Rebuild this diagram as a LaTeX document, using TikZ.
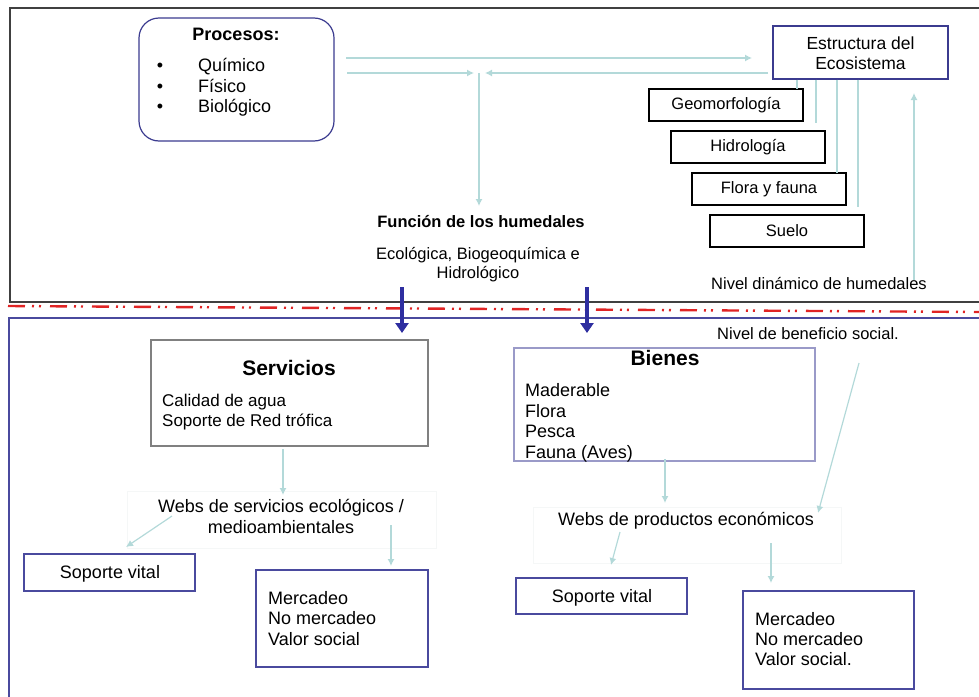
\documentclass[tikz,border=0pt]{standalone}
\usepackage{fontspec}
\setmainfont{Liberation Sans}
\usetikzlibrary{arrows.meta}
\newcommand\fsz[1]{\fontsize{#1}{#1}\selectfont}
\definecolor{lightc}{HTML}{B3D9D9}
\definecolor{navy}{HTML}{3B3B8F}
\definecolor{boxblue}{HTML}{4A4A9E}
\definecolor{lilac}{HTML}{9A9AC8}
\definecolor{darkarrow}{HTML}{2E2EA0}
\definecolor{redline}{HTML}{E02424}
\definecolor{frame}{HTML}{404040}
\definecolor{faint}{HTML}{F5F7F7}
\tikzset{
  box/.style={draw, line width=1.2pt, inner sep=0pt},
  txt/.style={inner sep=0pt, anchor=base},
  txtw/.style={inner sep=0pt, anchor=base west},
  lc/.style={draw=lightc, line width=1.2pt},
  la/.style={lc, -{Latex[length=7pt,width=7pt]}},
  bigarrow/.style={draw=darkarrow, line width=4pt, -{Triangle[length=10pt,width=13pt]}},
}
\begin{document}
\begin{tikzpicture}[x=1pt,y=-1pt]
\useasboundingbox (0,0) rectangle (979,696);
% frames
\draw[frame, line width=1.5pt] (10,8) rectangle (995,302);
\draw[boxblue, line width=2pt] (9,318) rectangle (995,710);
\draw[redline, line width=2.4pt, dash pattern=on 17pt off 7pt on 2pt off 5pt on 2pt off 9pt] (8,306) -- (979,312);

% Procesos
\node[box, draw=navy, rounded corners=20pt, minimum width=195pt, minimum height=123pt] (proc) at (236.5,79.5) {};
\node[txt, font=\bfseries\fsz{18}] (proct) at (236,40) {Procesos:};
\node[txt, font=\fsz{18}] (b1) at (160,71.5) {\textbullet};
\node[txt, font=\fsz{18}] (b2) at (160,92) {\textbullet};
\node[txt, font=\fsz{18}] (b3) at (160,112.5) {\textbullet};
\node[txtw, font=\fsz{18}] (q) at (198,71.5) {Químico};
\node[txtw, font=\fsz{18}] (f) at (198,92) {Físico};
\node[txtw, font=\fsz{18}] (bi) at (198,112.5) {Biológico};

% Estructura
\node[box, draw=navy, minimum width=175pt, minimum height=53pt] (est) at (860.5,52.5) {};
\node[txt, font=\fsz{17.5}] (est1) at (860.5,49.3) {Estructura del};
\node[txt, font=\fsz{17.5}] (est2) at (860.5,69) {Ecosistema};

\node[box, draw=black, minimum width=154pt, minimum height=32pt, font=\fsz{16.5}] (geo) at (726,105) {Geomorfología};
\node[box, draw=black, minimum width=154pt, minimum height=32pt, font=\fsz{16.5}] (hid) at (748,147) {Hidrología};
\node[box, draw=black, minimum width=154pt, minimum height=32pt, font=\fsz{16.5}] (flo) at (769,189) {Flora y fauna};
\node[box, draw=black, minimum width=154pt, minimum height=32pt, font=\fsz{16.5}] (sue) at (787,231) {Suelo};

\coordinate (l1e) at (797,89);
\coordinate (l2e) at (816,123);
\coordinate (l3e) at (837,173);
\coordinate (l4e) at (858,207);
\draw[lc] (l1e |- est.south) -- (l1e);
\draw[lc] (l2e |- est.south) -- (l2e);
\draw[lc] (l3e |- est.south) -- (l3e);
\draw[lc] (l4e |- est.south) -- (l4e);

\node[txt, font=\fsz{16.5}] (niv) at (819,289.3) {Nivel dinámico de humedales};
\coordinate (up0) at (914,280);
\coordinate (up1) at (914,93);
\draw[la] (up0) -- (up1);

% top arrows
\coordinate (a1s) at (346,58);
\coordinate (a1e) at (752,58);
\draw[la] (a1s) -- (a1e);
\coordinate (a2s) at (347,73);
\coordinate (a2e) at (474,73);
\draw[la] (a2s) -- (a2e);
\coordinate (a3s) at (768,73);
\coordinate (a3e) at (485,73);
\draw[la] (a3s) -- (a3e);
\coordinate (a4s) at (479,73);
\coordinate (a4e) at (479,206);
\draw[la] (a4s) -- (a4e);

% Funcion
\node[txt, font=\bfseries\fsz{16.5}] (fun) at (481,227.7) {Función de los humedales};
\node[txt, font=\fsz{16.5}] (fun1) at (478,259.3) {Ecológica, Biogeoquímica e};
\node[txt, font=\fsz{16.5}] (fun2) at (478,278.3) {Hidrológico};

\coordinate (d1s) at (402,287);
\coordinate (d1e) at (402,333);
\coordinate (d2s) at (587,287);
\coordinate (d2e) at (587,333);
\draw[bigarrow] (d1s) -- (d1e);
\draw[bigarrow] (d2s) -- (d2e);

% Servicios
\node[box, draw=gray, minimum width=277pt, minimum height=106pt] (serv) at (289.5,393) {};
\node[txt, font=\bfseries\fsz{21}] (servt) at (289,375) {Servicios};
\node[txtw, font=\fsz{17}] (s1) at (162,406.7) {Calidad de agua};
\node[txtw, font=\fsz{17}] (s2) at (162,426.7) {Soporte de Red trófica};

\node[draw=faint, line width=0.6pt, minimum width=309pt, minimum height=57pt, inner sep=0pt] (webs) at (281.5,519.5) {};
\node[txt, font=\fsz{18}] (w1) at (281,512.7) {Webs de servicios ecológicos /};
\node[txt, font=\fsz{18}] (w2) at (281,533.3) {medioambientales};

\coordinate (e1s) at (283,449);
\coordinate (e1e) at (283,495);
\draw[la] (e1s) -- (e1e);
\coordinate (e2s) at (172,516);
\coordinate (e2e) at (126,547);
\draw[la] (e2s) -- (e2e);
\coordinate (e3s) at (391,525);
\coordinate (e3e) at (391,566);
\draw[la] (e3s) -- (e3e);

\node[box, draw=boxblue, minimum width=171pt, minimum height=37pt] (svl) at (109.5,572.5) {};
\node[txt, font=\fsz{18}] (svlt) at (110,578.3) {Soporte vital};
\node[box, draw=boxblue, minimum width=172pt, minimum height=97pt] (merl) at (342,618.5) {};
\node[txtw, font=\fsz{18}] (m1) at (268,604) {Mercadeo};
\node[txtw, font=\fsz{18}] (m2) at (268,624.5) {No mercadeo};
\node[txtw, font=\fsz{18}] (m3) at (268,645) {Valor social};

% Bienes
\node[box, draw=lilac, minimum width=301pt, minimum height=113pt] (bien) at (664.5,404.5) {};
\node[txt, font=\bfseries\fsz{21}] (bient) at (665,365) {Bienes};
\node[txtw, font=\fsz{18}] (g1) at (525,396.7) {Maderable};
\node[txtw, font=\fsz{18}] (g2) at (525,417) {Flora};
\node[txtw, font=\fsz{18}] (g3) at (525,437.3) {Pesca};
\node[txtw, font=\fsz{18}] (g4) at (525,458.3) {Fauna (Aves)};

\node[txt, font=\fsz{16.5}] (nbs) at (808,339.3) {Nivel de beneficio social.};

\node[draw=faint, line width=0.6pt, minimum width=308pt, minimum height=56pt, inner sep=0pt] (webp) at (687,535) {};
\node[txt, font=\fsz{18}] (wp) at (686,525.7) {Webs de productos económicos};

\coordinate (f1s) at (665,459);
\coordinate (f1e) at (665,503);
\draw[la] (f1s) -- (f1e);
\coordinate (f2s) at (859,363);
\coordinate (f2e) at (818,513);
\draw[la] (f2s) -- (f2e);
\coordinate (f3s) at (620,532);
\coordinate (f3e) at (611,565);
\draw[la] (f3s) -- (f3e);
\coordinate (f4s) at (771,543);
\coordinate (f4e) at (771,583);
\draw[la] (f4s) -- (f4e);

\node[box, draw=boxblue, minimum width=171pt, minimum height=36pt] (svr) at (601.5,596) {};
\node[txt, font=\fsz{18}] (svrt) at (602,602.7) {Soporte vital};
\node[box, draw=boxblue, minimum width=171pt, minimum height=98pt] (merr) at (828.5,640) {};
\node[txtw, font=\fsz{18}] (r1) at (755,625) {Mercadeo};
\node[txtw, font=\fsz{18}] (r2) at (755,645.5) {No mercadeo};
\node[txtw, font=\fsz{18}] (r3) at (755,665.7) {Valor social.};
\end{tikzpicture}
\end{document}
